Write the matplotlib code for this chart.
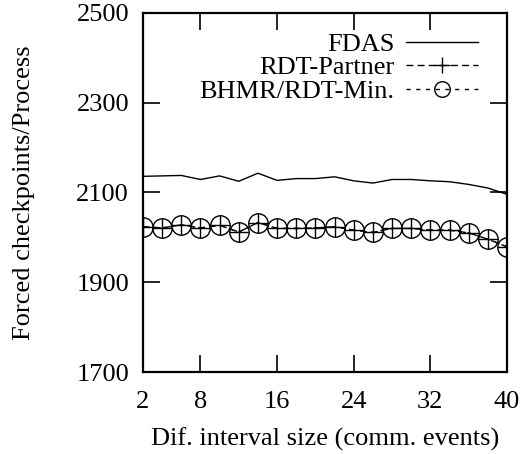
import matplotlib
matplotlib.use("Agg")
import matplotlib.pyplot as plt

plt.rcParams['font.family'] = ['Liberation Serif', 'DejaVu Serif']
plt.rcParams['mathtext.fontset'] = 'stix'

x = [2, 4, 6, 8, 10, 12, 14, 16, 18, 20, 22, 24, 26, 28, 30, 32, 34, 36, 38, 40]
fdas = [2136, 2137, 2138, 2129, 2137, 2125, 2143, 2127, 2131, 2131, 2135, 2126,
        2121, 2129, 2129, 2126, 2124, 2118, 2110, 2096]
rdt_partner = [2024, 2021, 2028, 2021, 2027, 2012, 2033, 2020, 2020, 2021, 2024, 2016,
               2011, 2020, 2020, 2016, 2016, 2010, 1996, 1979]
bhmr = [2024, 2021, 2028, 2021, 2027, 2012, 2033, 2020, 2020, 2021, 2024, 2016,
        2011, 2020, 2020, 2016, 2016, 2010, 1996, 1979]
xticks = [2, 8, 16, 24, 32, 40]
yticks = [1700, 1900, 2100, 2300, 2500]

fig = plt.figure(figsize=(5.23, 4.54), dpi=100)
ax = fig.add_axes([0.2734, 0.1806, 0.6960, 0.7908])

ax.plot(x, fdas, color='black', lw=1.0, label='FDAS')
ax.plot(x, rdt_partner, color='black', lw=1.0, ls=(0, (5, 3)), marker='+',
        markersize=14, markeredgewidth=1.0, label='RDT-Partner')
ax.plot(x, bhmr, color='black', lw=1.0, ls=(0, (3, 4)), marker='o',
        markersize=14, markerfacecolor='none', markeredgewidth=1.0,
        label='BHMR/RDT-Min.')

ax.set_xlim(2, 40)
ax.set_ylim(1700, 2500)
ax.set_xticks(xticks)
ax.set_yticks(yticks)
ax.tick_params(direction='in', length=12, width=1.2, top=True, right=True,
               labelsize=19)
ax.tick_params(axis='x', pad=14)
ax.tick_params(axis='y', pad=10)
for s in ax.spines.values():
    s.set_linewidth(1.6)

ax.set_xlabel('Dif. interval size (comm. events)', fontsize=19, labelpad=10)
ax.set_ylabel('Forced checkpoints/Process', fontsize=19, labelpad=30)

leg = ax.legend(loc='upper right', frameon=False, markerfirst=False, fontsize=19,
                handlelength=2.7, handletextpad=0.45, labelspacing=0.0,
                markerscale=0.8, borderaxespad=0.3, bbox_to_anchor=(0.97, 0.997))
for t in leg.get_texts():
    t.set_ha('right')

fig.savefig('out.png', dpi=100)
